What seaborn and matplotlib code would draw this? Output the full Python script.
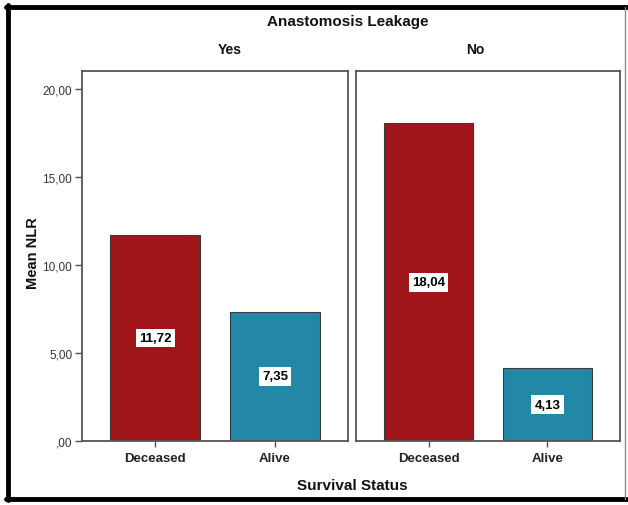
import matplotlib
matplotlib.use("Agg")
import matplotlib.pyplot as plt
import seaborn as sns
import pandas as pd
from matplotlib.lines import Line2D
from matplotlib.ticker import FuncFormatter

sns.set_style("white")
plt.rcParams['font.family'] = ['Liberation Sans', 'DejaVu Sans']

panels = ["Yes", "No"]
statuses = ["Deceased", "Alive"]
yes_values = [11.72, 7.35]
no_values = [18.04, 4.13]
colors = ["#a0161b", "#2388a8"]

W, H = 628, 506
fig = plt.figure(figsize=(W / 100, H / 100), dpi=100)

def fx(px):
    return px / W

def fy(py):
    return 1 - py / H

def fmt(v, pos=None):
    s = f"{v:.2f}".replace(".", ",")
    if s.startswith("0,"):
        s = s[1:]
    return s

panel_px = [(82, 348), (356, 620)]
top_px, bot_px = 72, 442
data_sets = [yes_values, no_values]

for i, (name, vals) in enumerate(zip(panels, data_sets)):
    x0, x1 = panel_px[i]
    ax = fig.add_axes([fx(x0), fy(bot_px), fx(x1) - fx(x0), fy(top_px) - fy(bot_px)])
    df = pd.DataFrame({"status": statuses, "value": vals})
    sns.barplot(data=df, x="status", y="value", hue="status", palette=colors,
                order=statuses, hue_order=statuses, legend=False, ax=ax,
                width=0.755, edgecolor="#3a3a3a", linewidth=0.8, saturation=1)
    ax.set_xlim(-0.61, 1.61)
    ax.set_ylim(0, 21.02)
    for sp in ax.spines.values():
        sp.set_visible(True)
        sp.set_color("#555555")
        sp.set_linewidth(1.3)
    ax.set_xlabel("")
    ax.set_ylabel("")
    ax.tick_params(axis="x", direction="out", length=4, width=1, color="#555555",
                   bottom=True, labelsize=9.5, pad=4)
    for lab in ax.get_xticklabels():
        lab.set_fontweight("bold")
        lab.set_color("#222222")
    if i == 0:
        ax.set_yticks([0, 5, 10, 15, 20])
        ax.yaxis.set_major_formatter(FuncFormatter(fmt))
        ax.tick_params(axis="y", direction="out", length=5, width=1, color="#555555",
                       left=True, labelsize=8.5, labelcolor="#333333", pad=2)
    else:
        ax.set_yticks([])
    for j, v in enumerate(vals):
        ax.text(j, v / 2, fmt(v), ha="center", va="center", fontsize=9.5,
                fontweight="bold", color="black",
                bbox=dict(boxstyle="square,pad=0.25", facecolor="white", edgecolor="none"))

fig.text(fx(348), fy(22), "Anastomosis Leakage", ha="center", va="center",
         fontsize=11, fontweight="bold", color="#111111")
fig.text(fx(230), fy(50), "Yes", ha="center", va="center", fontsize=10,
         fontweight="bold", color="#111111")
fig.text(fx(475), fy(50), "No", ha="center", va="center", fontsize=10,
         fontweight="bold", color="#111111")
fig.text(fx(33), fy(253), "Mean NLR", ha="center", va="center", rotation=90,
         fontsize=10.5, fontweight="bold", color="#111111")
fig.text(fx(352), fy(486), "Survival Status", ha="center", va="center",
         fontsize=11, fontweight="bold", color="#111111")

# outer frame
fig.lines.append(Line2D([fx(8), fx(8)], [fy(6), fy(501)], transform=fig.transFigure,
                        color="black", linewidth=3.5))
fig.lines.append(Line2D([fx(6), fx(628)], [fy(8), fy(8)], transform=fig.transFigure,
                        color="black", linewidth=3.5))
fig.lines.append(Line2D([fx(6), fx(628)], [fy(500), fy(500)], transform=fig.transFigure,
                        color="black", linewidth=3.5))
fig.lines.append(Line2D([fx(625), fx(625)], [fy(8), fy(500)], transform=fig.transFigure,
                        color="#888888", linewidth=1))

fig.savefig("out.png", dpi=100)
